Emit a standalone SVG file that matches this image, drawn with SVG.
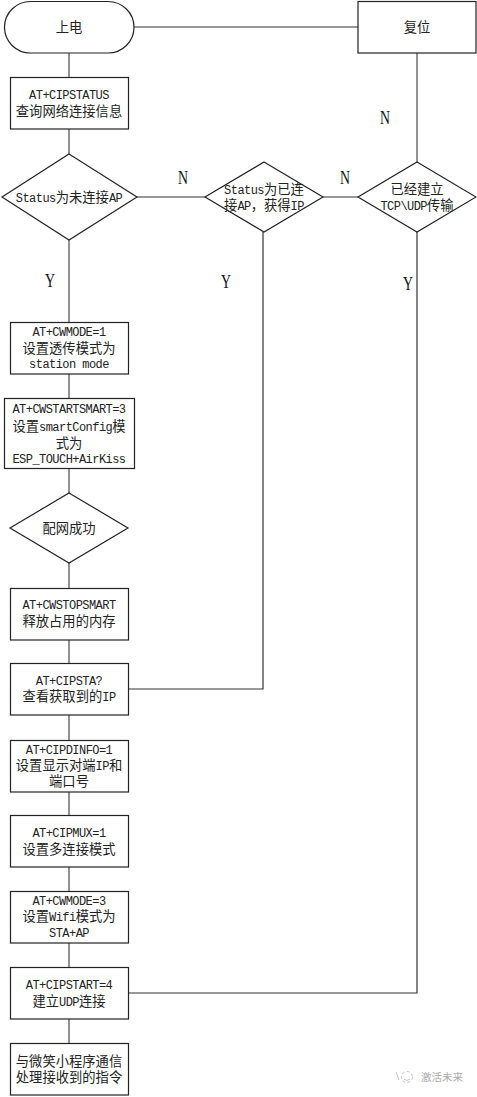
<svg xmlns="http://www.w3.org/2000/svg" width="477" height="1097" viewBox="0 0 477 1097">
<style>
.s{fill:#fff;stroke:#222;stroke-width:1.2}
.c{fill:none;stroke:#333;stroke-width:1.2}
.g{fill:none;stroke:#777;stroke-width:1.6}
text{font-family:"Noto Sans CJK SC","Liberation Mono",monospace;font-size:13.3px;fill:#222;text-anchor:middle}
.l{font-family:"Liberation Mono",monospace;font-size:12px;letter-spacing:-0.55px}
.b{font-family:"Liberation Serif",serif;font-size:18px;fill:#112}
.w{font-size:10.5px;fill:#aaa}
</style>
<rect width="477" height="1097" fill="#fff"/>
<g id="connectors">
<path class="c" d="M134 27H358"/>
<path class="g" d="M417 53V162M323 197H358M137 197H205"/>
<path class="g" d="M69 53V77M69 129V154M69 240V322M69 374V398M69 469V493M69 563V588M69 640V663M69 715V740M69 792V815M69 867V891M69 943V967M69 1019V1043"/>
<path class="c" d="M128 689H263V232"/>
<path class="c" d="M128 993H417V232"/>
</g>
<g id="n-power"><rect class="s" x="4.5" y="1.5" width="129.500" height="51.500" rx="26"/><text x="69" y="32">上电</text></g>
<g id="n-reset"><rect class="s" x="358" y="1.500" width="118" height="51.500"/><text x="417" y="32">复位</text></g>
<g id="n-status"><rect class="s" x="10.500" y="77.500" width="118" height="51.500"/><text x="69" y="99"><tspan class="l">AT+CIPSTATUS</tspan></text><text x="69" y="116">查询网络连接信息</text></g>
<g id="d-noap"><polygon class="s" points="69,154 137,197 69,240 2,197"/><text x="69" y="202"><tspan class="l">Status</tspan>为未连接<tspan class="l">AP</tspan></text></g>
<g id="d-ip"><polygon class="s" points="264,162 323,197 264,232 205,197"/><text x="264" y="194"><tspan class="l">Status</tspan>为已连</text><text x="264" y="210">接<tspan class="l">AP</tspan>，获得<tspan class="l">IP</tspan></text></g>
<g id="d-tcp"><polygon class="s" points="417,162 476,197 417,232 358,197"/><text x="417" y="194">已经建立</text><text x="417" y="210"><tspan class="l">TCP\UDP</tspan>传输</text></g>
<g id="n-cwmode1"><rect class="s" x="10.500" y="322.500" width="118" height="51.500"/><text x="69" y="336"><tspan class="l">AT+CWMODE=1</tspan></text><text x="69" y="353">设置透传模式为</text><text x="69" y="368"><tspan class="l">station mode</tspan></text></g>
<g id="n-smart"><rect class="s" x="4.500" y="398.500" width="130" height="70"/><text x="69" y="413"><tspan class="l">AT+CWSTARTSMART=3</tspan></text><text x="69" y="431">设置<tspan class="l">smartConfig</tspan>模</text><text x="69" y="448">式为</text><text x="69" y="463"><tspan class="l">ESP_TOUCH+AirKiss</tspan></text></g>
<g id="d-ok"><polygon class="s" points="69,493 128,528 69,563 10,528"/><text x="69" y="533">配网成功</text></g>
<g id="n-stop"><rect class="s" x="10.500" y="588.500" width="118" height="51.500"/><text x="69" y="609"><tspan class="l">AT+CWSTOPSMART</tspan></text><text x="69" y="626">释放占用的内存</text></g>
<g id="n-sta"><rect class="s" x="10.500" y="663.500" width="118" height="51.500"/><text x="69" y="685"><tspan class="l">AT+CIPSTA?</tspan></text><text x="69" y="701">查看获取到的<tspan class="l">IP</tspan></text></g>
<g id="n-dinfo"><rect class="s" x="10.500" y="740.500" width="118" height="51.500"/><text x="69" y="754"><tspan class="l">AT+CIPDINFO=1</tspan></text><text x="69" y="770">设置显示对端<tspan class="l">IP</tspan>和</text><text x="69" y="786">端口号</text></g>
<g id="n-mux"><rect class="s" x="10.500" y="815.500" width="118" height="51.500"/><text x="69" y="837"><tspan class="l">AT+CIPMUX=1</tspan></text><text x="69" y="854">设置多连接模式</text></g>
<g id="n-cwmode3"><rect class="s" x="10.500" y="891.500" width="118" height="51.500"/><text x="69" y="905"><tspan class="l">AT+CWMODE=3</tspan></text><text x="69" y="921">设置<tspan class="l">Wifi</tspan>模式为</text><text x="69" y="937"><tspan class="l">STA+AP</tspan></text></g>
<g id="n-start"><rect class="s" x="10.500" y="967.500" width="118" height="51.500"/><text x="69" y="989"><tspan class="l">AT+CIPSTART=4</tspan></text><text x="69" y="1006">建立<tspan class="l">UDP</tspan>连接</text></g>
<g id="n-mini"><rect class="s" x="10.500" y="1043.500" width="118" height="51.500"/><text x="69" y="1066">与微笑小程序通信</text><text x="69" y="1082">处理接收到的指令</text></g>
<g id="labels">
<text class="b" x="183" y="184" textLength="10" lengthAdjust="spacingAndGlyphs">N</text><text class="b" x="345" y="184" textLength="10" lengthAdjust="spacingAndGlyphs">N</text><text class="b" x="385" y="124" textLength="10" lengthAdjust="spacingAndGlyphs">N</text>
<text class="b" x="50" y="287" textLength="10" lengthAdjust="spacingAndGlyphs">Y</text><text class="b" x="226" y="288" textLength="10" lengthAdjust="spacingAndGlyphs">Y</text><text class="b" x="408" y="290" textLength="10" lengthAdjust="spacingAndGlyphs">Y</text>
</g>
<g id="mark" fill="none" stroke="#c4c4c4"><circle cx="407" cy="1077" r="5.500" stroke-dasharray="3 2"/><path d="M404 1079q3 3 6 0M396 1072l3 8"/><text class="w" x="442" y="1081" stroke="none">激活未来</text></g>
</svg>
